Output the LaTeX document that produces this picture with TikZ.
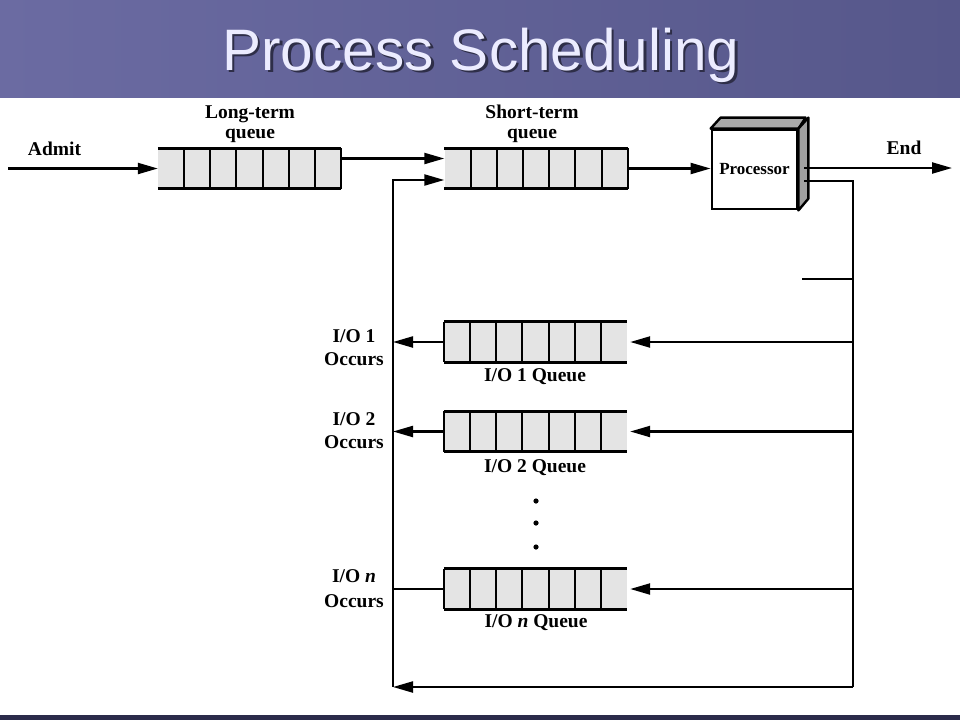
\documentclass[tikz,border=0pt]{standalone}
\usepackage{fontspec}
\setmainfont{Liberation Serif}
\newfontfamily\titlefont{Liberation Sans}
\usetikzlibrary{arrows.meta,calc}
\definecolor{barL}{HTML}{6B6BA2}
\definecolor{barR}{HTML}{56578A}
\definecolor{bottombar}{HTML}{2B2B4A}
\definecolor{titletext}{HTML}{ECECFF}
\definecolor{titleshadow}{HTML}{2E2E48}
\definecolor{qfill}{HTML}{E4E4E4}
\definecolor{sidegray}{HTML}{A0A0A0}
\tikzset{
  lbl/.style={font=\bfseries\fontsize{19.5}{22}\selectfont, anchor=base, inner sep=0pt},
  qbox/.style={rectangle, fill=qfill, draw=none, inner sep=0pt, minimum width=183pt, minimum height=40pt},
  qedge/.style={line width=2.8pt},
  qdiv/.style={line width=2pt},
  conn/.style={line width=2.2pt},
  arr/.style={line width=2.2pt, -{Triangle[length=20pt,width=11pt]}},
}
\newcommand\queuelines[1]{%
  \draw[qedge] (#1.north west) -- (#1.north east) (#1.south west) -- (#1.south east);
  \foreach \qi in {1,...,6}{\draw[qdiv] ($(#1.north west)!\qi/7!(#1.north east)$) -- ($(#1.south west)!\qi/7!(#1.south east)$);}
}
\begin{document}
\begin{tikzpicture}[x=1pt,y=-1pt]
\useasboundingbox (0,0) rectangle (960,720);
% background bars
\shade[left color=barL, right color=barR] (0,0) rectangle (960,97);
\fill[bottombar] (0,715) rectangle (960,720);
% title (with drop shadow)
\node[anchor=base, font=\titlefont\fontsize{58.5}{60}\selectfont, text=titleshadow, inner sep=0pt] (titleshadow) at (483.5,72.5) {Process Scheduling};
\node[anchor=base, font=\titlefont\fontsize{58.5}{60}\selectfont, text=titletext, inner sep=0pt] (title) at (481,70) {Process Scheduling};

% queues
\node[qbox] (lq) at (249.5,168.5) {};
\node[qbox] (sq) at (536,168.5) {};
\node[qbox] (io1) at (535.5,342) {};
\node[qbox] (io2) at (535.5,431.5) {};
\node[qbox] (ion) at (535.5,589) {};
\queuelines{lq}
\queuelines{sq}
\queuelines{io1}
\queuelines{io2}
\queuelines{ion}
\draw[qdiv] (lq.north east) -- (lq.south east);
\draw[qdiv] (sq.north east) -- (sq.south east);
\draw[qdiv] (io1.north west) -- (io1.south west);
\draw[qdiv] (io2.north west) -- (io2.south west);
\draw[qdiv] (ion.north west) -- (ion.south west);

% processor
\node[draw, line width=2.8pt, fill=white, minimum width=85pt, minimum height=79pt, inner sep=0pt,
      font=\bfseries\fontsize{17}{18}\selectfont] (proc) at (754.5,169.5) {Processor};
\draw[line width=2.4pt, line join=round, fill=sidegray!90] (proc.north west) -- ++(10,-11) -- ++(85,0) -- (proc.north east) -- cycle;
\draw[line width=2.4pt, line join=round, fill=sidegray] (proc.north east) -- ++(10,-11) -- ++(0,81) -- (proc.south east) -- cycle;

% coordinates
\coordinate (admitstart) at (8,168.5);
\coordinate (endtip) at (952,168);
\coordinate (rt) at (853,181);
\coordinate (rb) at (853,687);
\coordinate (lb) at (393,687);
\coordinate (lt) at (393,180);
\coordinate (stubl) at (802,279);
\coordinate (stubr) at (853,279);

% labels
\node[lbl] (admit) at (54.5,155) {Admit};
\node[lbl] (lqt1) at (250,118) {Long-term};
\node[lbl] (lqt2) at (250,138) {queue};
\node[lbl] (sqt1) at (532,118) {Short-term};
\node[lbl] (sqt2) at (532,138) {queue};
\node[lbl] (endl) at (904,154) {End};
\node[lbl] (o1a) at (354,342) {I/O 1};
\node[lbl] (o1b) at (354,365) {Occurs};
\node[lbl] (o2a) at (354,425) {I/O 2};
\node[lbl] (o2b) at (354,448) {Occurs};
\node[lbl] (ona) at (354,582) {I/O \textit{n}};
\node[lbl] (onb) at (354,607) {Occurs};
\node[lbl] (q1l) at (535,381) {I/O 1 Queue};
\node[lbl] (q2l) at (535,472) {I/O 2 Queue};
\node[lbl] (qnl) at (536,627) {I/O \textit{n} Queue};

% dots
\foreach \dy in {501,523,547}{\fill (536,\dy) circle (2.6pt);}

% connectors
\draw[arr] (admitstart) -- (lq.west);
\draw[arr] ([yshift=10pt]lq.east) -- ([yshift=10pt]sq.west);
\draw[arr] (sq.east) -- (sq.east -| proc.west);
\draw[arr] ([xshift=6pt,yshift=1.5pt]proc.east) -- (endtip);
\draw[conn] ([xshift=6pt,yshift=-11.5pt]proc.east) -- (rt) -- (rb);
\draw[arr] (rb) -- (lb);
\draw[arr] (lb) -- (lt) -- ([yshift=-11.5pt]sq.west);
\draw[conn] (stubl) -- (stubr);
\draw[arr, shorten >=3pt] (io1.east -| rt) -- (io1.east);
\draw[arr, shorten >=3pt] (io2.east -| rt) -- (io2.east);
\draw[arr, shorten >=3pt] (ion.east -| rt) -- (ion.east);
\draw[arr] (io1.west) -- (io1.west -| lt);
\draw[arr] (io2.west) -- (io2.west -| lt);
\draw[conn] (ion.west) -- (ion.west -| lt);
\end{tikzpicture}
\end{document}
